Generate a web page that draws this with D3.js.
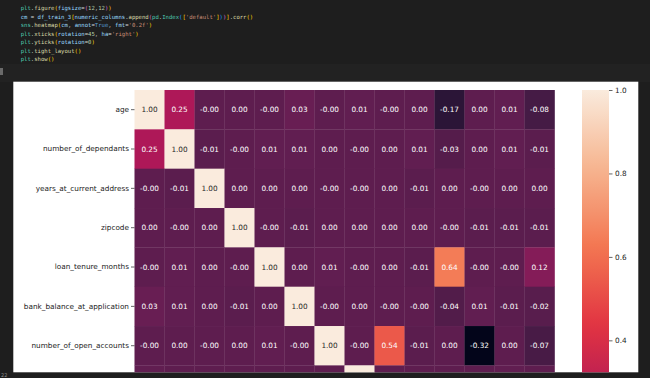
<!DOCTYPE html>
<html lang="en">
<head>
    <meta charset="UTF-8">
    <title>Correlation heatmap</title>
    <script src="https://d3js.org/d3.v7.min.js"></script>
    <style>
        body { margin: 0; background: #1e1e1e; }
        svg { display: block; }
        .code { font-family: "DejaVu Sans Mono", monospace; font-size: 5.6px; }
        .axis text { font-family: "DejaVu Sans", sans-serif; font-size: 7.3px; fill: #222; }
        .axis line { stroke: #222; stroke-width: 0.7; }
        .annot { font-family: "DejaVu Sans", sans-serif; font-size: 7.3px; }
    </style>
</head>
<body>
<svg id="chart" width="650" height="378"></svg>
<script>
    // feature names (rows and columns of the correlation matrix)
    const features = [
        "age", "number_of_dependants", "years_at_current_address", "zipcode",
        "loan_tenure_months", "bank_balance_at_application", "number_of_open_accounts",
        "number_of_closed_accounts", "enquiry_count", "credit_utilization_ratio",
        "loan_to_income", "delinquency_ratio", "avg_dpd_per_delinquency", "default"
    ];

    // correlation rows (rows 7+ are below the visible crop, mostly estimated)
    const corr = [
        [ 1.00,  0.25, -0.00,  0.00, -0.00,  0.03, -0.00,  0.01, -0.00,  0.00, -0.17,  0.00,  0.01, -0.08],
        [ 0.25,  1.00, -0.01, -0.00,  0.01,  0.01,  0.00, -0.00,  0.00,  0.01, -0.03,  0.00,  0.01, -0.01],
        [-0.00, -0.01,  1.00,  0.00,  0.00,  0.00, -0.00, -0.00,  0.00, -0.01,  0.00, -0.00,  0.00,  0.00],
        [ 0.00, -0.00,  0.00,  1.00, -0.00, -0.01,  0.00,  0.00,  0.00,  0.00, -0.00, -0.01, -0.01, -0.01],
        [-0.00,  0.01,  0.00, -0.00,  1.00,  0.00,  0.01, -0.00,  0.00, -0.01,  0.64, -0.00, -0.00,  0.12],
        [ 0.03,  0.01,  0.00, -0.01,  0.00,  1.00, -0.00,  0.00, -0.00, -0.00, -0.04,  0.01, -0.01, -0.02],
        [-0.00,  0.00, -0.00,  0.00,  0.01, -0.00,  1.00, -0.00,  0.54, -0.01,  0.00, -0.32,  0.00, -0.07],
        [ 0.01, -0.00, -0.00,  0.00, -0.00,  0.00, -0.00,  1.00,  0.00, -0.00, -0.00,  0.00,  0.01, -0.00],
        [-0.00,  0.00,  0.00,  0.00,  0.00, -0.00,  0.54,  0.00,  1.00,  0.01,  0.00, -0.17,  0.00, -0.04],
        [ 0.00,  0.01, -0.01,  0.00, -0.01, -0.00, -0.01, -0.00,  0.01,  1.00,  0.00,  0.02,  0.01,  0.40],
        [-0.17, -0.03,  0.00, -0.00,  0.64, -0.04,  0.00, -0.00,  0.00,  0.00,  1.00, -0.00,  0.00,  0.36],
        [ 0.00,  0.00, -0.00, -0.01, -0.00,  0.01, -0.32,  0.00, -0.17,  0.02, -0.00,  1.00,  0.00,  0.31],
        [ 0.01,  0.01,  0.00, -0.01, -0.00, -0.01,  0.00,  0.01,  0.00,  0.01,  0.00,  0.00,  1.00,  0.25],
        [-0.08, -0.01,  0.00, -0.01,  0.12, -0.02, -0.07, -0.00, -0.04,  0.40,  0.36,  0.31,  0.25,  1.00]
    ];

    const colorbarTicks = [1.0, 0.8, 0.6, 0.4, 0.2, 0.0, -0.2];

    // notebook cell source, tokens of [text, colour]
    const codeLines = [
        [["plt", "#4ec9b0"], [".", "#d4d4d4"], ["figure", "#dcdcaa"], ["(", "#ffd700"], ["figsize", "#9cdcfe"], ["=", "#d4d4d4"], ["(", "#da70d6"], ["12", "#b5cea8"], [",", "#d4d4d4"], ["12", "#b5cea8"], [")", "#da70d6"], [")", "#ffd700"]],
        [["cm", "#9cdcfe"], [" = ", "#d4d4d4"], ["df_train_3", "#9cdcfe"], ["[", "#ffd700"], ["numeric_columns", "#9cdcfe"], [".", "#d4d4d4"], ["append", "#dcdcaa"], ["(", "#da70d6"], ["pd", "#4ec9b0"], [".", "#d4d4d4"], ["Index", "#4ec9b0"], ["(", "#179fff"], ["[", "#ffd700"], ["'default'", "#ce9178"], ["]", "#ffd700"], [")", "#179fff"], [")", "#da70d6"], ["]", "#ffd700"], [".", "#d4d4d4"], ["corr", "#dcdcaa"], ["()", "#ffd700"]],
        [["sns", "#4ec9b0"], [".", "#d4d4d4"], ["heatmap", "#dcdcaa"], ["(", "#ffd700"], ["cm", "#9cdcfe"], [", ", "#d4d4d4"], ["annot", "#9cdcfe"], ["=", "#d4d4d4"], ["True", "#569cd6"], [", ", "#d4d4d4"], ["fmt", "#9cdcfe"], ["=", "#d4d4d4"], ["'0.2f'", "#ce9178"], [")", "#ffd700"]],
        [["plt", "#4ec9b0"], [".", "#d4d4d4"], ["xticks", "#dcdcaa"], ["(", "#ffd700"], ["rotation", "#9cdcfe"], ["=", "#d4d4d4"], ["45", "#b5cea8"], [", ", "#d4d4d4"], ["ha", "#9cdcfe"], ["=", "#d4d4d4"], ["'right'", "#ce9178"], [")", "#ffd700"]],
        [["plt", "#4ec9b0"], [".", "#d4d4d4"], ["yticks", "#dcdcaa"], ["(", "#ffd700"], ["rotation", "#9cdcfe"], ["=", "#d4d4d4"], ["0", "#b5cea8"], [")", "#ffd700"]],
        [["plt", "#4ec9b0"], [".", "#d4d4d4"], ["tight_layout", "#dcdcaa"], ["()", "#ffd700"]],
        [["plt", "#4ec9b0"], [".", "#d4d4d4"], ["show", "#dcdcaa"], ["()", "#ffd700"]]
    ];

    // rocket colormap (seaborn) stops
    const rocketStops = ["#03051a", "#35193e", "#701f57", "#ad1759", "#e13342", "#f37651", "#f6b48f", "#faebdd"];

    const svg = d3.select("#chart");

    // background of the notebook
    svg.append("rect").attr("width", 650).attr("height", 378).attr("fill", "#1e1e1e");
    svg.append("rect").attr("x", 0).attr("y", 64).attr("width", 650).attr("height", 18).attr("fill", "#222222");
    svg.append("rect").attr("x", 0).attr("y", 68).attr("width", 3).attr("height", 7).attr("fill", "#6a6a6a");
    svg.append("text").attr("x", 1).attr("y", 377).attr("fill", "#888")
        .style("font-family", "DejaVu Sans").style("font-size", "5px").text("22");

    // code lines
    const code = svg.append("g").attr("class", "code");
    codeLines.forEach((tokens, i) => {
        const t = code.append("text").attr("x", 20.7).attr("y", 10.3 + i * 8.5).attr("xml:space", "preserve");
        tokens.forEach(([txt, col]) => t.append("tspan").attr("fill", col).text(txt));
    });

    // figure area (white), cropped at the bottom
    const fig = { x: 13.3, y: 81.7, w: 625, h: 290.6 };
    const defs = svg.append("defs");
    defs.append("clipPath").attr("id", "figclip")
        .append("rect").attr("x", fig.x).attr("y", fig.y).attr("width", fig.w).attr("height", fig.h);
    svg.append("rect").attr("x", fig.x).attr("y", fig.y).attr("width", fig.w).attr("height", fig.h).attr("fill", "#ffffff");

    const g = svg.append("g").attr("clip-path", "url(#figclip)");

    const cellW = 30, cellH = 39.34;
    const heatLeft = 134.5, heatTop = 90;
    const figBottom = fig.y + fig.h;

    const x = d3.scaleBand().domain(features).range([heatLeft, heatLeft + cellW * features.length]);
    const y = d3.scaleBand().domain(features).range([heatTop, heatTop + cellH * features.length]);

    const vmin = d3.min(corr, r => d3.min(r));
    const vmax = d3.max(corr, r => d3.max(r));
    const norm = d3.scaleLinear().domain([vmin, vmax]).range([0, 1]);
    const rocket = d3.scaleLinear()
        .domain(rocketStops.map((_, i) => i / (rocketStops.length - 1)))
        .range(rocketStops)
        .interpolate(d3.interpolateRgb);
    const color = v => rocket(norm(v));

    const cells = [];
    corr.forEach((row, i) => row.forEach((v, j) => cells.push({ r: features[i], c: features[j], v })));

    const fmt = v => ((v < 0 || Object.is(v, -0)) ? "-" : "") + Math.abs(v).toFixed(2);
    const isLight = v => {
        const c = d3.rgb(color(v));
        const lin = u => { u /= 255; return u <= 0.03928 ? u / 12.92 : Math.pow((u + 0.055) / 1.055, 2.4); };
        return 0.2126 * lin(c.r) + 0.7152 * lin(c.g) + 0.0722 * lin(c.b) > 0.408;
    };

    g.selectAll(".cell")
        .data(cells)
        .enter()
        .append("rect")
        .attr("class", "cell")
        .attr("x", d => x(d.c))
        .attr("y", d => y(d.r))
        .attr("width", x.bandwidth() + 0.3)
        .attr("height", y.bandwidth() + 0.3)
        .attr("fill", d => color(d.v));

    // annotations only for rows whose text lies inside the cropped figure
    g.selectAll(".annot")
        .data(cells.filter(d => y(d.r) + y.bandwidth() / 2 + 4 < figBottom))
        .enter()
        .append("text")
        .attr("class", "annot")
        .attr("x", d => x(d.c) + x.bandwidth() / 2)
        .attr("y", d => y(d.r) + y.bandwidth() / 2)
        .attr("dy", "0.36em")
        .attr("text-anchor", "middle")
        .attr("fill", d => isLight(d.v) ? "#262626" : "#ffffff")
        .text(d => fmt(d.v));

    // y axis labels
    const visibleRows = features.filter(f => y(f) + y.bandwidth() / 2 + 4 < figBottom);
    g.append("g")
        .attr("class", "axis")
        .attr("transform", `translate(${heatLeft},0)`)
        .call(d3.axisLeft(y).tickValues(visibleRows).tickSize(3.5).tickPadding(2))
        .call(a => a.select(".domain").remove());

    // colorbar
    const cb = { x: 582, w: 27 };
    const cbScale = d3.scaleLinear().domain([vmin, vmax]).range([heatTop + cellH * features.length, heatTop]);
    const grad = defs.append("linearGradient")
        .attr("id", "cbgrad").attr("x1", 0).attr("y1", 1).attr("x2", 0).attr("y2", 0);
    d3.range(0, 1.0001, 0.02).forEach(t => {
        grad.append("stop").attr("offset", t).attr("stop-color", rocket(t));
    });
    g.append("rect")
        .attr("x", cb.x)
        .attr("y", cbScale(vmax))
        .attr("width", cb.w)
        .attr("height", cbScale(vmin) - cbScale(vmax))
        .attr("fill", "url(#cbgrad)");

    g.append("g")
        .attr("class", "axis")
        .attr("transform", `translate(${cb.x + cb.w},0)`)
        .call(d3.axisRight(cbScale)
            .tickValues(colorbarTicks.filter(t => cbScale(t) + 4 < figBottom))
            .tickFormat(d3.format(".1f")).tickSize(3.5).tickPadding(2.5))
        .call(a => a.select(".domain").remove());
</script>
</body>
</html>
